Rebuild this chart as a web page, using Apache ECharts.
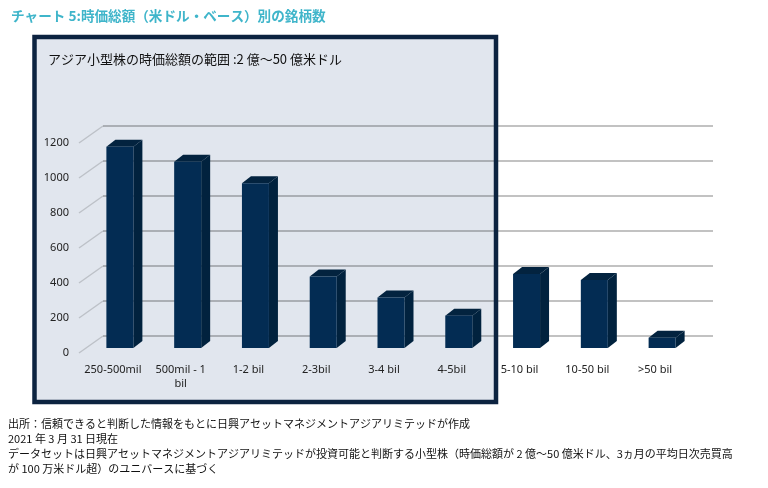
<!DOCTYPE html>
<html><head><meta charset="utf-8">
<script src="https://cdn.jsdelivr.net/npm/echarts@6/dist/echarts.min.js"></script>
<style>html,body{margin:0;padding:0;background:#fff}#c{width:768px;height:488px}</style>
</head><body><div id="c"></div>
<script>
const categories = ['250-500mil','500mil - 1\nbil','1-2 bil','2-3bil','3-4 bil','4-5bil','5-10 bil','10-50 bil','>50 bil'];
const counts = [1150, 1065, 942, 409, 288, 185, 423, 389, 59];
const yTicks = [0, 200, 400, 600, 800, 1000, 1200];
const titleText = 'チャート 5:時価総額（米ドル・ベース）別の銘柄数';
const subTitleText = 'アジア小型株の時価総額の範囲 :2 億～50 億米ドル';
const notes = [
  '出所：信頼できると判断した情報をもとに日興アセットマネジメントアジアリミテッドが作成',
  '2021 年 3 月 31 日現在',
  'データセットは日興アセットマネジメントアジアリミテッドが投資可能と判断する小型株（時価総額が 2 億～50 億米ドル、3ヵ月の平均日次売買高',
  'が 100 万米ドル超）のユニバースに基づく'
];

const chart = echarts.init(document.getElementById('c'), null, {renderer: 'canvas'});
const jp = '"Noto Sans CJK JP", sans-serif';
const lat = '"Noto Sans", "Open Sans", sans-serif';

const DX = 24, DY = 17;      // wall depth
const BX = 7, BY = 5;        // bar front offset
const HW = 13.5, SX = 9, SY = 7; // bar half width and side depth

const option = {
  animation: false,
  backgroundColor: '#fff',
  grid: [
    {left: 103, right: 55, top: 126, bottom: 152},
    {left: 79, right: 79, top: 143, bottom: 135}
  ],
  xAxis: [
    {type: 'category', gridIndex: 0, data: categories, show: false},
    {type: 'category', gridIndex: 1, data: categories,
     axisLine: {show: false}, axisTick: {show: false},
     axisLabel: {interval: 0, margin: 10, color: '#222', fontSize: 11, fontFamily: lat, lineHeight: 14}}
  ],
  yAxis: [
    {type: 'value', gridIndex: 0, min: 0, max: 1200, interval: 200,
     axisLabel: {show: false}, axisLine: {show: false}, axisTick: {show: false},
     splitLine: {show: true, lineStyle: {color: 'rgba(0,0,0,0.24)', width: 2}}},
    {type: 'value', gridIndex: 1, min: 0, max: 1200, interval: 200,
     axisLine: {show: false}, axisTick: {show: false}, splitLine: {show: false},
     axisLabel: {margin: 10, color: '#222', fontSize: 11, fontFamily: lat, padding: [7, 0, 0, 0],
                 formatter: v => String(v)}}
  ],
  graphic: [
    {type: 'rect', z: -10, silent: true, shape: {x: 34.5, y: 37, width: 461.5, height: 365},
     style: {fill: '#e1e6ee', stroke: null}},
    {type: 'rect', z: 100, silent: true, shape: {x: 34.5, y: 37, width: 461.5, height: 365},
     style: {fill: null, stroke: '#0c2340', lineWidth: 4.5}},
    {type: 'text', z: 100, left: 11, top: 9,
     style: {text: titleText, fill: '#3fb5ca', font: 'bold 13.6px ' + jp}},
    {type: 'text', z: 100, left: 48, top: 53,
     style: {text: subTitleText, fill: '#111', font: '13px ' + jp}},
    {type: 'text', z: 100, left: 8, top: 416,
     style: {text: notes.join('\n'), fill: '#111', font: '11px ' + jp, lineHeight: 15}}
  ],
  series: [
    {
      type: 'custom', xAxisIndex: 1, yAxisIndex: 1, z: 1, silent: true,
      data: yTicks.map(v => [0, v]),
      renderItem: function (params, api) {
        const p = api.coord([0, api.value(1)]);
        const x0 = params.coordSys.x;
        return {type: 'line', shape: {x1: x0, y1: p[1], x2: x0 + DX, y2: p[1] - DY},
                style: {stroke: 'rgba(0,0,0,0.16)', lineWidth: 1.5}};
      }
    },
    {
      type: 'custom', xAxisIndex: 1, yAxisIndex: 1, z: 5, silent: true,
      data: counts.map((v, i) => [i, v]),
      renderItem: function (params, api) {
        const i = api.value(0), v = api.value(1);
        const b = api.coord([i, 0]), t = api.coord([i, v]);
        const cx = b[0] + BX, y0 = b[1] - BY, y1 = t[1] - BY;
        return {type: 'group', children: [
          {type: 'polygon', shape: {points: [[cx + HW, y0], [cx + HW, y1], [cx + HW + SX, y1 - SY], [cx + HW + SX, y0 - SY]]},
           style: {fill: '#01223e'}},
          {type: 'polygon', shape: {points: [[cx - HW, y1], [cx + HW, y1], [cx + HW + SX, y1 - SY], [cx - HW + SX, y1 - SY]]},
           style: {fill: '#03233f'}},
          {type: 'rect', shape: {x: cx - HW, y: y1, width: 2 * HW, height: y0 - y1},
           style: {fill: '#032c53'}}
        ]};
      }
    }
  ]
};
chart.setOption(option);
</script></body></html>
